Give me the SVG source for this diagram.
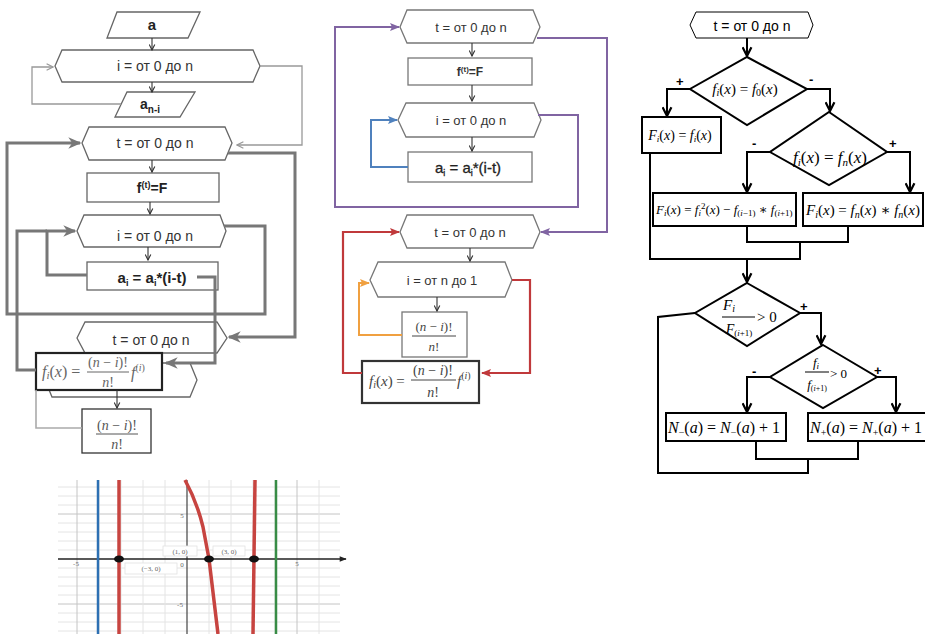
<svg xmlns="http://www.w3.org/2000/svg" width="925" height="634" viewBox="0 0 925 634">
<style>
.n1{fill:#fff;stroke:#666;stroke-width:1.3}
.n2{fill:#fff;stroke:#777;stroke-width:1.3}
.n3{fill:#fff;stroke:#000;stroke-width:2}
.bx{fill:#fff;stroke:#222;stroke-width:2.2}
.lbl{font-family:"Liberation Sans",Arial,sans-serif;fill:#333}
.b{font-weight:bold;fill:#222}
.m{font-family:"Liberation Serif","DejaVu Serif",serif;fill:#000}
.it{font-style:italic}
.thin{fill:none;stroke:#999;stroke-width:1.3}
.dn{fill:none;stroke:#333;stroke-width:1.1}
.thk{fill:none;stroke:#777;stroke-width:3}
.blk{fill:none;stroke:#000;stroke-width:2}
.pm{font-family:"Liberation Sans",Arial,sans-serif;font-size:13px;fill:#000;font-weight:bold}
.grid{stroke:#e4e4e4;stroke-width:1}
.gmaj{stroke:#c4c4c4;stroke-width:1}
.tick{font-family:"Liberation Serif",serif;font-size:7px;fill:#666}
</style>
<defs>
<marker id="aThin" viewBox="0 0 10 10" refX="9" refY="5" markerWidth="8" markerHeight="8" markerUnits="userSpaceOnUse" orient="auto"><path d="M1,1 L9,5 L1,9" fill="none" stroke="#999" stroke-width="1.5"/></marker>
<marker id="aDn" viewBox="0 0 10 10" refX="9" refY="5" markerWidth="7" markerHeight="7" markerUnits="userSpaceOnUse" orient="auto"><path d="M1,1 L9,5 L1,9" fill="none" stroke="#333" stroke-width="1.6"/></marker>
<marker id="aThk" viewBox="0 0 10 10" refX="9" refY="5" markerWidth="13" markerHeight="13" markerUnits="userSpaceOnUse" orient="auto"><path d="M0,0.5 L10,5 L0,9.5 L3,5 z" fill="#777"/></marker>
<marker id="aBlk" viewBox="0 0 10 10" refX="9" refY="5" markerWidth="11" markerHeight="11" markerUnits="userSpaceOnUse" orient="auto"><path d="M1,1 L9,5 L1,9" fill="none" stroke="#000" stroke-width="2"/></marker>
<marker id="aPur" viewBox="0 0 10 10" refX="9" refY="5" markerWidth="10" markerHeight="10" markerUnits="userSpaceOnUse" orient="auto"><path d="M0,1 L10,5 L0,9 L2,5 z" fill="#8064a2"/></marker>
<marker id="aBlu" viewBox="0 0 10 10" refX="9" refY="5" markerWidth="10" markerHeight="10" markerUnits="userSpaceOnUse" orient="auto"><path d="M0,1 L10,5 L0,9 L2,5 z" fill="#4f81bd"/></marker>
<marker id="aOra" viewBox="0 0 10 10" refX="9" refY="5" markerWidth="10" markerHeight="10" markerUnits="userSpaceOnUse" orient="auto"><path d="M0,1 L10,5 L0,9 L2,5 z" fill="#f0a040"/></marker>
<marker id="aRed" viewBox="0 0 10 10" refX="9" refY="5" markerWidth="10" markerHeight="10" markerUnits="userSpaceOnUse" orient="auto"><path d="M0,1 L10,5 L0,9 L2,5 z" fill="#c0393b"/></marker>
<marker id="aAx" viewBox="0 0 10 10" refX="9" refY="5" markerWidth="9" markerHeight="7" markerUnits="userSpaceOnUse" orient="auto"><path d="M0,1 L10,5 L0,9 z" fill="#222"/></marker>
<clipPath id="cb3"><rect x="653" y="193" width="143" height="33"/></clipPath>
</defs>
<rect width="925" height="634" fill="#fff"/>

<!-- ===== Panel 1 (left) nodes ===== -->
<g id="p1-a"><polygon class="n1" points="117,12 200,12 188,38 107,38"/><text class="lbl b" x="152" y="30" font-size="15" text-anchor="middle">a</text></g>
<g id="p1-loop-i"><polygon class="n1" points="55,66 62,50 253,50 260,66 253,82 62,82"/><text class="lbl" x="155" y="71" font-size="14" text-anchor="middle">i = от 0 до n</text></g>
<g id="p1-ani"><polygon class="n1" points="127,92 195,92 180,117 115,117"/><text class="lbl b" x="150" y="109" font-size="14" text-anchor="middle">a<tspan font-size="10" dy="4">n-i</tspan></text></g>
<g id="p1-loop-t"><polygon class="n1" points="82,143 89,127 225,127 232,143 225,160 89,160"/><text class="lbl" x="155" y="148" font-size="14" text-anchor="middle">t = от 0 до n</text></g>
<g id="p1-ft"><rect class="n1" x="87" y="173" width="132" height="29"/><text class="lbl b" x="152" y="193" font-size="14" text-anchor="middle">f<tspan font-size="9" dy="-5">(t)</tspan><tspan dy="5">=F</tspan></text></g>
<g id="p1-loop-i2"><polygon class="n1" points="77,231 84,215 220,215 226,231 220,247 84,247"/><text class="lbl" x="155" y="241" font-size="14" text-anchor="middle">i = от 0 до n</text></g>
<g id="p1-ai"><rect class="n1" x="87" y="262" width="131" height="28"/><text class="lbl b" x="152" y="283" font-size="15" text-anchor="middle">a<tspan font-size="9" dy="3">i</tspan><tspan dy="-3"> = a</tspan><tspan font-size="9" dy="3">i</tspan><tspan dy="-3">*(i-t)</tspan></text></g>
<g id="p1-loop-t2"><polygon class="n1" points="77,338 85,322 217,322 227,338 217,353 85,353"/><text class="lbl" x="151" y="345" font-size="14" text-anchor="middle">t = от 0 до n</text></g>
<g id="p1-loop-i3"><polygon class="n1" points="45,380 52,363 190,363 197,380 190,397 52,397"/></g>
<g id="p1-fi"><rect class="bx" x="36" y="353" width="126" height="37"/>
<text class="m" x="42" y="377" font-size="16" style="fill:#666"><tspan class="it">f</tspan><tspan class="it" font-size="11" dy="2">i</tspan><tspan dy="-2">(</tspan><tspan class="it">x</tspan>) =</text>
<text class="m" x="108" y="367" font-size="14" text-anchor="middle" style="fill:#666">(<tspan class="it">n</tspan> − <tspan class="it">i</tspan>)!</text>
<line x1="87" y1="372" x2="129" y2="372" stroke="#666" stroke-width="1"/>
<text class="m it" x="108" y="387" font-size="14" text-anchor="middle" style="fill:#666">n<tspan font-style="normal">!</tspan></text>
<text class="m it" x="131" y="378" font-size="16" style="fill:#666">f<tspan font-size="10" dy="-7" font-style="normal">(</tspan><tspan font-size="10">i</tspan><tspan font-size="10" font-style="normal">)</tspan></text></g>
<g id="p1-frac"><rect class="n1" x="82" y="409" width="69" height="44" style="stroke:#333"/>
<text class="m" x="117" y="430" font-size="14" text-anchor="middle" style="fill:#555">(<tspan class="it">n</tspan> − <tspan class="it">i</tspan>)!</text>
<line x1="96" y1="434" x2="138" y2="434" stroke="#555" stroke-width="1"/>
<text class="m it" x="117" y="449" font-size="14" text-anchor="middle" style="fill:#555">n<tspan font-style="normal">!</tspan></text></g>

<!-- ===== Panel 1 connectors ===== -->
<g id="p1-connectors">
<line class="dn" x1="152" y1="38" x2="152" y2="50" marker-end="url(#aDn)"/>
<line class="dn" x1="152" y1="82" x2="152" y2="92" marker-end="url(#aDn)"/>
<line class="dn" x1="152" y1="160" x2="152" y2="172" marker-end="url(#aDn)"/>
<line class="dn" x1="150" y1="202" x2="150" y2="214" marker-end="url(#aDn)"/>
<line class="dn" x1="148" y1="247" x2="148" y2="260" marker-end="url(#aDn)"/>
<line class="dn" x1="117" y1="390" x2="117" y2="408" marker-end="url(#aDn)"/>
<polyline class="thin" points="121,104 32,104 32,67 53,67" marker-end="url(#aThin)"/>
<polyline class="thin" points="260,66 302,66 302,145 237,145" marker-end="url(#aThin)"/>
<polyline class="thk" points="228,153 295,153 295,337 229,337" marker-end="url(#aThk)"/>
<polyline class="thk" points="224,226 265,226 265,314 7,314 7,143 80,143" marker-end="url(#aThk)"/>
<polyline class="thk" points="87,275 47,275 47,231 75,231" marker-end="url(#aThk)"/>
<polyline class="thk" points="36,370 17,370 17,231 47,231"/>
<polyline class="thk" points="197,277 215,277 215,363 166,363" marker-end="url(#aThk)"/>
<polyline fill="none" stroke="#aaa" stroke-width="1.6" points="36,390 36,428 82,428"/>
</g>

<!-- ===== Panel 2 (middle) nodes ===== -->
<g id="p2-loop-t"><polygon class="n2" points="400,27 407,10 533,10 540,27 533,43 407,43"/><text class="lbl" x="471" y="32" font-size="13" text-anchor="middle">t = от 0 до n</text></g>
<g id="p2-ft"><rect class="n2" x="408" y="58" width="124" height="27"/><text class="lbl" x="470" y="76" font-size="12" text-anchor="middle" font-weight="bold">f<tspan font-size="8" dy="-4">(t)</tspan><tspan dy="4">=F</tspan></text></g>
<g id="p2-loop-i"><polygon class="n2" points="398,120 406,103 534,103 541,120 534,137 406,137"/><text class="lbl" x="471" y="125" font-size="13" text-anchor="middle">i = от 0 до n</text></g>
<g id="p2-ai"><rect class="n2" x="408" y="152" width="124" height="30"/><text class="lbl" x="468" y="173" font-size="15" text-anchor="middle" style="fill:#222;stroke:#222;stroke-width:0.3">a<tspan font-size="9" dy="3">i</tspan><tspan dy="-3"> = a</tspan><tspan font-size="9" dy="3">i</tspan><tspan dy="-3">*(i-t)</tspan></text></g>
<g id="p2-loop-t2"><polygon class="n2" points="400,232 407,215 533,215 540,232 533,248 407,248"/><text class="lbl" x="470" y="237" font-size="13" text-anchor="middle">t = от 0 до n</text></g>
<g id="p2-loop-i2"><polygon class="n2" points="370,280 378,262 505,262 512,280 505,297 378,297"/><text class="lbl" x="442" y="285" font-size="13" text-anchor="middle">i = от n до 1</text></g>
<g id="p2-frac"><rect class="n2" x="402" y="312" width="65" height="45"/>
<text class="m" x="434" y="331" font-size="13" text-anchor="middle" style="fill:#444">(<tspan class="it">n</tspan> − <tspan class="it">i</tspan>)!</text>
<line x1="412" y1="336" x2="456" y2="336" stroke="#444" stroke-width="1"/>
<text class="m it" x="434" y="351" font-size="13" text-anchor="middle" style="fill:#444">n<tspan font-style="normal">!</tspan></text></g>
<g id="p2-fi"><rect class="bx" x="362" y="361" width="117" height="42" style="stroke:#333"/>
<text class="m" x="369" y="386" font-size="15" style="fill:#444"><tspan class="it">f</tspan><tspan class="it" font-size="10" dy="2">i</tspan><tspan dy="-2">(</tspan><tspan class="it">x</tspan>) =</text>
<text class="m" x="433" y="375" font-size="14" text-anchor="middle" style="fill:#444">(<tspan class="it">n</tspan> − <tspan class="it">i</tspan>)!</text>
<line x1="411" y1="380" x2="456" y2="380" stroke="#444" stroke-width="1"/>
<text class="m it" x="433" y="397" font-size="14" text-anchor="middle" style="fill:#444">n<tspan font-style="normal">!</tspan></text>
<text class="m it" x="457" y="386" font-size="15" style="fill:#444">f<tspan font-size="10" dy="-7" font-style="normal">(</tspan><tspan font-size="10">i</tspan><tspan font-size="10" font-style="normal">)</tspan></text></g>

<!-- ===== Panel 2 connectors ===== -->
<g id="p2-connectors">
<line class="dn" x1="472" y1="43" x2="472" y2="56" marker-end="url(#aDn)"/>
<line class="dn" x1="472" y1="85" x2="472" y2="101" marker-end="url(#aDn)"/>
<line class="dn" x1="472" y1="137" x2="472" y2="151" marker-end="url(#aDn)"/>
<line class="dn" x1="470" y1="248" x2="470" y2="261" marker-end="url(#aDn)"/>
<line class="dn" x1="437" y1="297" x2="437" y2="311" marker-end="url(#aDn)"/>
<polyline fill="none" stroke="#4f81bd" stroke-width="2" points="408,167 371,167 371,120 397,120" marker-end="url(#aBlu)"/>
<polyline fill="none" stroke="#8064a2" stroke-width="2" points="538,115 578,115 578,207 335,207 335,27 399,27" marker-end="url(#aPur)"/>
<polyline fill="none" stroke="#8064a2" stroke-width="2" points="537,38 607,38 607,232 541,232" marker-end="url(#aPur)"/>
<polyline fill="none" stroke="#f0a040" stroke-width="2" points="402,335 359,335 359,283 369,283" marker-end="url(#aOra)"/>
<polyline fill="none" stroke="#c0393b" stroke-width="2.2" points="512,280 530,280 530,373 482,373" marker-end="url(#aRed)"/>
<polyline fill="none" stroke="#c0393b" stroke-width="2.2" points="362,373 343,373 343,232 399,232" marker-end="url(#aRed)"/>
</g>

<!-- ===== Panel 3 (right) nodes ===== -->
<g id="p3-loop-t"><polygon class="n3" style="stroke-width:1" points="690,25 696,12 808,12 813,25 808,38 696,38"/><text class="lbl" x="752" y="31" font-size="14" text-anchor="middle" style="fill:#000">t = от 0 до n</text></g>
<g id="p3-d1"><polygon class="n3" points="747,57 807,89 747,125 690,89"/>
<text class="m" x="745" y="94" font-size="15" text-anchor="middle"><tspan class="it">f</tspan><tspan class="it" font-size="10" dy="2">i</tspan><tspan dy="-2">(</tspan><tspan class="it">x</tspan>) = <tspan class="it">f</tspan><tspan font-size="10" dy="2">0</tspan><tspan dy="-2">(</tspan><tspan class="it">x</tspan>)</text></g>
<g id="p3-b1"><rect class="n3" x="642" y="117" width="79" height="36"/>
<text class="m" x="680" y="140" font-size="14" text-anchor="middle"><tspan class="it">F</tspan><tspan class="it" font-size="9" dy="2">i</tspan><tspan dy="-2">(</tspan><tspan class="it">x</tspan>) = <tspan class="it">f</tspan><tspan class="it" font-size="9" dy="2">i</tspan><tspan dy="-2">(</tspan><tspan class="it">x</tspan>)</text></g>
<g id="p3-d2"><polygon class="n3" points="829,112 887,152 829,185 770,152"/>
<text class="m" x="830" y="163" font-size="17" text-anchor="middle"><tspan class="it">f</tspan><tspan class="it" font-size="11" dy="3">i</tspan><tspan dy="-3">(</tspan><tspan class="it">x</tspan>) = <tspan class="it">f</tspan><tspan class="it" font-size="11" dy="3">n</tspan><tspan dy="-3">(</tspan><tspan class="it">x</tspan>)</text></g>
<g id="p3-b3"><rect class="n3" x="653" y="193" width="143" height="33"/>
<text class="m" x="656" y="214" font-size="13" clip-path="url(#cb3)"><tspan class="it">F</tspan><tspan class="it" font-size="9" dy="2">i</tspan><tspan dy="-2">(</tspan><tspan class="it">x</tspan>) = <tspan class="it">f</tspan><tspan class="it" font-size="9" dy="2">i</tspan><tspan font-size="9" dy="-7">2</tspan><tspan dy="5">(</tspan><tspan class="it">x</tspan>) − <tspan class="it">f</tspan><tspan font-size="9" dy="2">(</tspan><tspan class="it" font-size="9">i</tspan><tspan font-size="9">−1)</tspan><tspan dy="-2"> ∗ </tspan><tspan class="it">f</tspan><tspan font-size="9" dy="2">(</tspan><tspan class="it" font-size="9">i</tspan><tspan font-size="9">+1)</tspan></text></g>
<g id="p3-b4"><rect class="n3" x="803" y="193" width="120" height="33"/>
<text class="m" x="806" y="215" font-size="15"><tspan class="it">F</tspan><tspan class="it" font-size="10" dy="3">i</tspan><tspan dy="-3">(</tspan><tspan class="it">x</tspan>) = <tspan class="it">f</tspan><tspan class="it" font-size="10" dy="3">n</tspan><tspan dy="-3">(</tspan><tspan class="it">x</tspan>) ∗ <tspan class="it">f</tspan><tspan class="it" font-size="10" dy="3">n</tspan><tspan dy="-3">(</tspan><tspan class="it">x</tspan>)</text></g>
<g id="p3-d3"><polygon class="n3" points="747,283 800,313 747,346 695,313"/>
<text class="m" x="729" y="310" font-size="15" text-anchor="middle"><tspan class="it">F</tspan><tspan class="it" font-size="10" dy="2">i</tspan></text>
<line x1="722" y1="317" x2="755" y2="317" stroke="#000" stroke-width="1"/>
<text class="m" x="739" y="334" font-size="14" text-anchor="middle"><tspan class="it">F</tspan><tspan font-size="9" dy="2">(</tspan><tspan class="it" font-size="9">i</tspan><tspan font-size="9">+1)</tspan></text>
<text class="m" x="757" y="322" font-size="15">&gt; 0</text></g>
<g id="p3-d4"><polygon class="n3" points="823,345 877,377 823,408 770,377"/>
<text class="m" x="816" y="367" font-size="13" text-anchor="middle"><tspan class="it">f</tspan><tspan class="it" font-size="9" dy="2">i</tspan></text>
<line x1="805" y1="372" x2="829" y2="372" stroke="#000" stroke-width="1"/>
<text class="m" x="817" y="389" font-size="13" text-anchor="middle"><tspan class="it">f</tspan><tspan font-size="8" dy="2">(</tspan><tspan class="it" font-size="8">i</tspan><tspan font-size="8">+1)</tspan></text>
<text class="m" x="830" y="378" font-size="13">&gt; 0</text></g>
<g id="p3-nm"><rect class="n3" x="666" y="413" width="120" height="28"/>
<text class="m" x="668" y="433" font-size="16"><tspan class="it">N</tspan><tspan font-size="10" dy="3">−</tspan><tspan dy="-3">(</tspan><tspan class="it">a</tspan>) = <tspan class="it">N</tspan><tspan font-size="10" dy="3">−</tspan><tspan dy="-3">(</tspan><tspan class="it">a</tspan>) + 1</text></g>
<g id="p3-np"><rect class="n3" x="808" y="413" width="120" height="28"/>
<text class="m" x="810" y="433" font-size="16"><tspan class="it">N</tspan><tspan font-size="10" dy="3">+</tspan><tspan dy="-3">(</tspan><tspan class="it">a</tspan>) = <tspan class="it">N</tspan><tspan font-size="10" dy="3">+</tspan><tspan dy="-3">(</tspan><tspan class="it">a</tspan>) + 1</text></g>

<!-- ===== Panel 3 connectors ===== -->
<g id="p3-connectors">
<line class="blk" x1="747" y1="38" x2="747" y2="56" marker-end="url(#aBlk)"/>
<polyline class="blk" points="690,89 667,89 667,116" marker-end="url(#aBlk)"/>
<polyline class="blk" points="807,89 830,89 830,111" marker-end="url(#aBlk)"/>
<polyline class="blk" points="770,152 747,152 747,192" marker-end="url(#aBlk)"/>
<polyline class="blk" points="887,152 910,152 910,192" marker-end="url(#aBlk)"/>
<polyline class="blk" points="747,226 747,242 848,242 848,226"/>
<polyline class="blk" points="800,242 800,259 650,259 650,153"/>
<line class="blk" x1="747" y1="259" x2="747" y2="282" marker-end="url(#aBlk)"/>
<polyline class="blk" points="800,313 821,313 821,344" marker-end="url(#aBlk)"/>
<polyline class="blk" points="695,313 658,317 658,473 808,473 808,459"/>
<polyline class="blk" points="770,377 747,377 747,412" marker-end="url(#aBlk)"/>
<polyline class="blk" points="877,377 896,377 896,412" marker-end="url(#aBlk)"/>
<polyline class="blk" points="756,441 756,459 858,459 858,441"/>
<text class="pm" x="676" y="86">+</text>
<text class="pm" x="809" y="84">-</text>
<text class="pm" x="752" y="148">-</text>
<text class="pm" x="889" y="148">+</text>
<text class="pm" x="800" y="311">+</text>
<text class="pm" x="752" y="376">-</text>
<text class="pm" x="874" y="375">+</text>
</g>

<!-- ===== Graph ===== -->
<g id="graph">
<g>
<line class="grid" x1="58" y1="487" x2="340" y2="487"/><line class="grid" x1="58" y1="496" x2="340" y2="496"/><line class="grid" x1="58" y1="505" x2="340" y2="505"/>
<line class="gmaj" x1="58" y1="514" x2="340" y2="514"/>
<line class="grid" x1="58" y1="523" x2="340" y2="523"/><line class="grid" x1="58" y1="532" x2="340" y2="532"/><line class="grid" x1="58" y1="541" x2="340" y2="541"/><line class="grid" x1="58" y1="550" x2="340" y2="550"/>
<line class="grid" x1="58" y1="568" x2="340" y2="568"/><line class="grid" x1="58" y1="577" x2="340" y2="577"/><line class="grid" x1="58" y1="586" x2="340" y2="586"/><line class="grid" x1="58" y1="595" x2="340" y2="595"/>
<line class="gmaj" x1="58" y1="604" x2="340" y2="604"/>
<line class="grid" x1="58" y1="613" x2="340" y2="613"/><line class="grid" x1="58" y1="622" x2="340" y2="622"/><line class="grid" x1="58" y1="631" x2="340" y2="631"/>
<line class="gmaj" x1="77" y1="480" x2="77" y2="634"/>
<line class="grid" x1="99" y1="480" x2="99" y2="634"/><line class="grid" x1="121" y1="480" x2="121" y2="634"/><line class="grid" x1="143" y1="480" x2="143" y2="634"/><line class="grid" x1="165" y1="480" x2="165" y2="634"/>
<line class="grid" x1="209" y1="480" x2="209" y2="634"/><line class="grid" x1="231" y1="480" x2="231" y2="634"/><line class="grid" x1="253" y1="480" x2="253" y2="634"/><line class="grid" x1="275" y1="480" x2="275" y2="634"/>
<line class="gmaj" x1="297" y1="480" x2="297" y2="634"/>
<line class="grid" x1="319" y1="480" x2="319" y2="634"/>
</g>
<line x1="187" y1="480" x2="187" y2="634" stroke="#444" stroke-width="1.2"/>
<line x1="58" y1="559" x2="346" y2="559" stroke="#222" stroke-width="1.3" marker-end="url(#aAx)"/>
<line x1="98" y1="480" x2="98" y2="634" stroke="#2d70b3" stroke-width="2.5"/>
<line x1="276" y1="480" x2="276" y2="634" stroke="#388c46" stroke-width="2.5"/>
<line x1="119" y1="480" x2="119" y2="634" stroke="#c74440" stroke-width="3.5"/>
<line x1="255" y1="480" x2="253" y2="634" stroke="#c74440" stroke-width="3.5"/>
<path d="M185,480 Q197,502 203,527 L209,559 L218,634" fill="none" stroke="#c74440" stroke-width="3.5"/>
<ellipse cx="119" cy="559" rx="5" ry="3.5" fill="#111"/>
<ellipse cx="209" cy="559" rx="5" ry="3.5" fill="#111"/>
<ellipse cx="254" cy="559" rx="5" ry="3.5" fill="#111"/>
<rect x="163" y="546" width="34" height="10" fill="#fff" stroke="#e2e2e2" stroke-width="0.8"/>
<text class="tick" x="180" y="553.5" text-anchor="middle">(1, 0)</text>
<rect x="213" y="546" width="32" height="10" fill="#fff" stroke="#e2e2e2" stroke-width="0.8"/>
<text class="tick" x="229" y="553.5" text-anchor="middle">(3, 0)</text>
<rect x="125" y="563" width="52" height="11" fill="#fff" stroke="#e2e2e2" stroke-width="0.8"/>
<text class="tick" x="151" y="571" text-anchor="middle">(−3, 0)</text>
<text class="tick" x="76" y="566" text-anchor="middle">-5</text>
<text class="tick" x="297" y="566" text-anchor="middle">5</text>
<text class="tick" x="182" y="567" text-anchor="middle">0</text>
<text class="tick" x="182" y="518" text-anchor="middle">5</text>
<text class="tick" x="180" y="607" text-anchor="middle">-5</text>
</g>
</svg>
